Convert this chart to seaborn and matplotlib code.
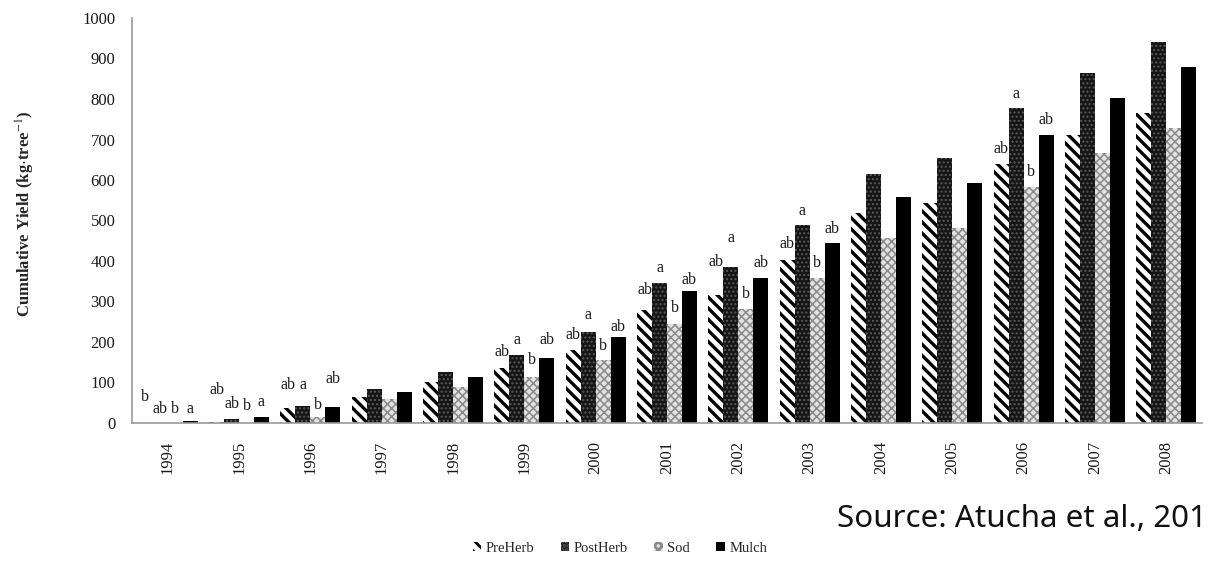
import matplotlib
matplotlib.use("Agg")
import matplotlib.pyplot as plt
from matplotlib.patches import Patch
import seaborn as sns
import pandas as pd

# ---- data ----
years = ["1994", "1995", "1996", "1997", "1998", "1999", "2000", "2001",
         "2002", "2003", "2004", "2005", "2006", "2007", "2008"]
treatments = ["PreHerb", "PostHerb", "Sod", "Mulch"]
preherb = [0, 3, 37, 65, 101, 136, 180, 279, 316, 402, 518, 543, 639, 711, 765]
postherb = [1, 10, 42, 84, 126, 168, 225, 346, 386, 489, 615, 654, 777, 865, 941]
sod = [0, 1, 15, 59, 89, 114, 156, 244, 281, 358, 457, 481, 583, 666, 729]
mulch = [4, 14, 39, 77, 114, 161, 212, 326, 358, 444, 558, 593, 710, 803, 880]

# significance letters (year -> letter) and the height of their baseline
letter_years = ["1994", "1995", "1996", "1999", "2000", "2001", "2002", "2003", "2006"]
letters_pre = ["b", "ab", "ab", "ab", "ab", "ab", "ab", "ab", "ab"]
letters_post = ["ab", "ab", "a", "a", "a", "a", "a", "a", "a"]
letters_sod = ["b", "b", "b", "b", "b", "b", "b", "b", "b"]
letters_mulch = ["a", "a", "ab", "ab", "ab", "ab", "ab", "ab", "ab"]
lh_pre = [54, 72, 84, 165, 207, 319, 388, 432, 667]
lh_post = [25, 37, 84, 195, 257, 373, 447, 514, 802]
lh_sod = [25, 32, 35, 146, 180, 274, 309, 385, 610]
lh_mulch = [25, 42, 99, 195, 227, 343, 385, 469, 738]

series = {"PreHerb": preherb, "PostHerb": postherb, "Sod": sod, "Mulch": mulch}
letters = {"PreHerb": (letters_pre, lh_pre), "PostHerb": (letters_post, lh_post),
           "Sod": (letters_sod, lh_sod), "Mulch": (letters_mulch, lh_mulch)}

rows = []
for t in treatments:
    for y, v in zip(years, series[t]):
        rows.append({"Year": y, "Treatment": t, "Yield": v})
df = pd.DataFrame(rows)

# ---- styling ----
sns.set_style("white")
plt.rcParams["font.family"] = ["Liberation Serif", "DejaVu Serif"]
plt.rcParams["mathtext.fontset"] = "stix"
plt.rcParams["hatch.linewidth"] = 2.0

styles = {
    "PreHerb": dict(facecolor="white", edgecolor="black", hatch="\\\\\\", hlw=2.4),
    "PostHerb": dict(facecolor="#151515", edgecolor="#5a5a5a", hatch="....", hlw=1.0),
    "Sod": dict(facecolor="#e2e2e2", edgecolor="#8a8a8a", hatch="xxxx", hlw=1.1),
    "Mulch": dict(facecolor="black", edgecolor="black", hatch=None, hlw=1.0),
}

fig = plt.figure(figsize=(12.11, 5.82), dpi=100)
ax = fig.add_axes([132 / 1211, 1 - 423 / 582, (1202 - 132) / 1211, (423 - 18) / 582])

sns.barplot(data=df, x="Year", y="Yield", hue="Treatment", hue_order=treatments,
            order=years, palette=["white", "black", "#cccccc", "black"],
            width=0.84, errorbar=None, legend=False, ax=ax)


def style_patch(p, st):
    p.set_facecolor(st["facecolor"])
    p.set_edgecolor(st["edgecolor"])
    p.set_linewidth(0)
    if st["hatch"]:
        p.set_hatch(st["hatch"])
        if hasattr(p, "set_hatch_linewidth"):
            p.set_hatch_linewidth(st["hlw"])


for cont, t in zip(ax.containers, treatments):
    st = styles[t]
    for p in cont.patches:
        style_patch(p, st)
    labs, hts = letters[t]
    for yr, lab, h in zip(letter_years, labs, hts):
        p = cont.patches[years.index(yr)]
        ax.text(p.get_x() + p.get_width() / 2, h, lab, ha="center", va="baseline",
                fontsize=11.5, color="#1a1a1a")

ax.set_ylim(0, 1000)
ax.set_yticks(range(0, 1001, 100))
ax.set_xlim(-0.5, len(years) - 0.5)
ax.set_xlabel("")
ax.set_ylabel("")
ax.tick_params(axis="y", length=0, pad=12, labelsize=12, colors="#1a1a1a")
ax.tick_params(axis="x", length=0, pad=13, labelsize=12, colors="#1a1a1a")
for lab in ax.get_xticklabels():
    lab.set_rotation(90)
for s in ["top", "right"]:
    ax.spines[s].set_visible(False)
for s in ["left", "bottom"]:
    ax.spines[s].set_color("#9a9a9a")
    ax.spines[s].set_linewidth(1.2)

fig.text(25 / 1211, 1 - 214 / 582, r"Cumulative Yield (kg$\cdot$tree$^{-1}$)",
         rotation=90, ha="center", va="center", fontsize=12, fontweight="bold")

handles = []
for t in treatments:
    st = styles[t]
    hp = Patch(facecolor=st["facecolor"], edgecolor=st["edgecolor"],
               hatch=st["hatch"], linewidth=0, label=t)
    handles.append(hp)
fig.legend(handles=handles, loc="center", bbox_to_anchor=(0.512, 1 - 548 / 582),
           ncol=4, frameon=False, fontsize=10.5, handlelength=0.6, handleheight=0.6,
           columnspacing=1.8, handletextpad=0.3)

fig.text(1207 / 1211, 1 - 519 / 582, "Source: Atucha et al., 201", ha="right",
         va="center", fontsize=22.5, family="Noto Sans", color="#111111")

fig.savefig("out.png", dpi=100)
